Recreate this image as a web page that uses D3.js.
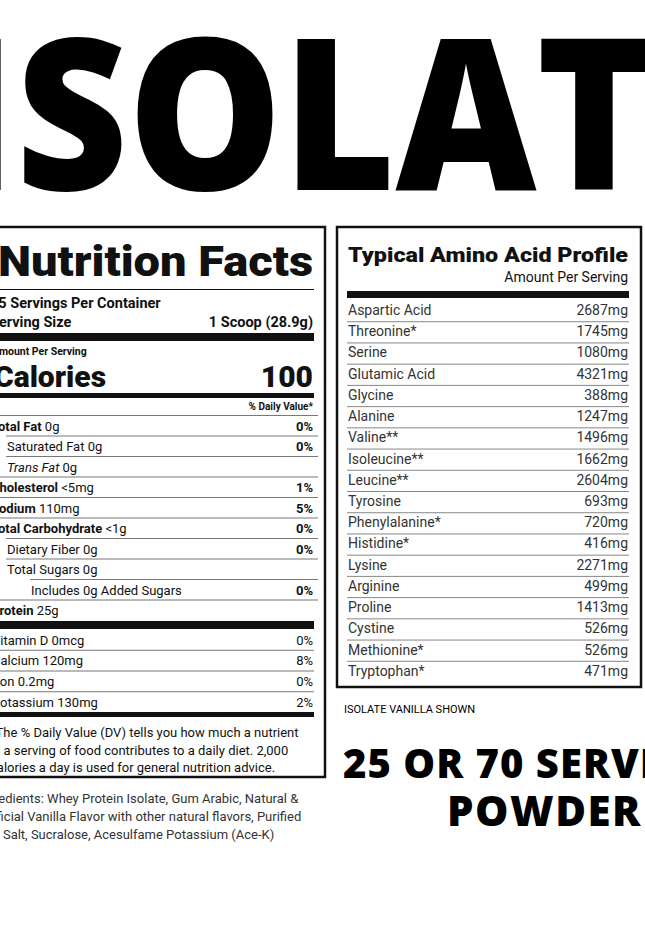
<!DOCTYPE html>
<html><head><meta charset="utf-8">
<script src="https://cdn.jsdelivr.net/npm/d3@7"></script>
<style>body{margin:0;background:#fff}svg{display:block}</style>
</head><body><div id="chart"></div>
<script>
// amino acid data
var aminoNames = ["Aspartic Acid","Threonine*","Serine","Glutamic Acid","Glycine","Alanine","Valine**","Isoleucine**","Leucine**","Tyrosine","Phenylalanine*","Histidine*","Lysine","Arginine","Proline","Cystine","Methionine*","Tryptophan*"];
var aminoMg = [2687,1745,1080,4321,388,1247,1496,1662,2604,693,720,416,2271,499,1413,526,526,471];

// nutrition facts rows
var nutrLabels = ["Total Fat","Saturated Fat","Trans Fat","Cholesterol","Sodium","Total Carbohydrate","Dietary Fiber","Total Sugars","Includes 0g Added Sugars","Protein"];
var nutrAmounts = ["0g","0g","0g","<5mg","110mg","<1g","0g","0g","",  "25g"];
var nutrDV = ["0%","0%","","1%","5%","0%","0%","","0%",""];
var nutrIndent = [0,1,1,0,0,0,1,1,2,0];
var nutrBold = [1,0,0,1,1,1,0,0,0,1];
var vitLabels = ["Vitamin D 0mcg","Calcium 120mg","Iron 0.2mg","Potassium 130mg"];
var vitDV = ["0%","8%","0%","2%"];

var w = 645, h = 936;
var svg = d3.select("#chart").append("svg").attr("width", w).attr("height", h);
var font = "Roboto, 'Liberation Sans', sans-serif";
var heavy = "'Open Sans', Lato, sans-serif";

// big heading
svg.append("text").attr("x", -52).attr("y", 190)
    .attr("textLength", 810).attr("lengthAdjust", "spacingAndGlyphs")
    .style("font-family", heavy).style("font-weight", 800)
    .style("font-size", "212px").text("ISOLATE");

// ---- Nutrition facts panel
var nf = svg.append("g").style("font-family", font).style("fill", "#111");
nf.append("rect").attr("x", -4).attr("y", 227).attr("width", 329).attr("height", 550)
    .attr("fill", "none").attr("stroke", "#111").attr("stroke-width", 2.5);
nf.append("text").attr("x", -2).attr("y", 276).attr("textLength", 315).attr("lengthAdjust", "spacingAndGlyphs")
    .style("font-size", "42px").style("font-weight", 900).text("Nutrition Facts");
function bar(g, y, t, x1, x2) {
    g.append("rect").attr("x", x1).attr("y", y).attr("width", x2 - x1).attr("height", t).attr("fill", "#111");
}
bar(nf, 289, 1, -4, 314);
nf.append("text").attr("x", -10).attr("y", 308).style("font-size", "14.5px").style("font-weight", 700).text("25 Servings Per Container");
nf.append("text").attr("x", -10).attr("y", 327).style("font-size", "14.5px").style("font-weight", 700).text("Serving Size");
nf.append("text").attr("x", 313).attr("y", 327).attr("text-anchor", "end").style("font-size", "14.5px").style("font-weight", 700).text("1 Scoop (28.9g)");
bar(nf, 333, 8, -4, 314);
nf.append("text").attr("x", -8).attr("y", 355).style("font-size", "10.5px").style("font-weight", 700).text("Amount Per Serving");
nf.append("text").attr("x", -6).attr("y", 387).style("font-size", "30px").style("font-weight", 900).text("Calories");
nf.append("text").attr("x", 313).attr("y", 387).attr("text-anchor", "end").style("font-size", "30px").style("font-weight", 900).text("100");
bar(nf, 393, 5, -4, 314);
nf.append("text").attr("x", 313).attr("y", 410).attr("text-anchor", "end").style("font-size", "10px").style("font-weight", 700).text("% Daily Value*");

var indentX = [-4, 6, 6, -4, -4, -4, 6, 6, 30, -4];
var yN = d3.scaleBand().domain(d3.range(nutrLabels.length)).range([415, 620]);
var rows = nf.selectAll("g.nrow").data(nutrLabels).join("g").attr("class", "nrow")
    .attr("transform", function (d, i) { return "translate(0," + yN(i) + ")"; });
rows.append("rect").attr("x", function (d, i) { return indentX[i]; })
    .attr("width", function (d, i) { return 318 - indentX[i]; })
    .attr("height", 1).attr("fill", "#777");
var t = rows.append("text").attr("x", function (d, i) { return [-9, 7, 31][nutrIndent[i]]; })
    .attr("y", 15.5).style("font-size", "13px");
t.append("tspan").style("font-weight", function (d, i) { return nutrBold[i] ? 700 : 400; })
    .style("font-style", function (d, i) { return i == 2 ? "italic" : "normal"; })
    .text(function (d) { return d; });
t.append("tspan").text(function (d, i) { return nutrAmounts[i] ? " " + nutrAmounts[i] : ""; });
rows.append("text").attr("x", 313).attr("y", 15.5).attr("text-anchor", "end")
    .style("font-size", "13px").style("font-weight", 700).text(function (d, i) { return nutrDV[i]; });
bar(nf, 621, 8, -4, 314);

var yV = d3.scaleBand().domain(d3.range(vitLabels.length)).range([629, 712]);
var vrows = nf.selectAll("g.vrow").data(vitLabels).join("g").attr("class", "vrow")
    .attr("transform", function (d, i) { return "translate(0," + yV(i) + ")"; });
vrows.filter(function (d, i) { return i > 0; }).append("rect").attr("x", -4).attr("width", 318).attr("height", 1).attr("fill", "#777");
vrows.append("text").attr("x", -8).attr("y", 15.5).style("font-size", "13px").text(function (d) { return d; });
vrows.append("text").attr("x", 313).attr("y", 15.5).attr("text-anchor", "end").style("font-size", "13px").text(function (d, i) { return vitDV[i]; });
bar(nf, 712, 5, -4, 314);
["*The % Daily Value (DV) tells you how much a nutrient", "in a serving of food contributes to a daily diet. 2,000", "calories a day is used for general nutrition advice."]
    .forEach(function (s, i) {
        nf.append("text").attr("x", -10).attr("y", 737 + i * 17.5).style("font-size", "13px").text(s);
    });
["Ingredients: Whey Protein Isolate, Gum Arabic, Natural &", "Artificial Vanilla Flavor with other natural flavors, Purified", "Sea Salt, Sucralose, Acesulfame Potassium (Ace-K)"]
    .forEach(function (s, i) {
        nf.append("text").attr("x", [-24, -24, -22][i]).attr("y", 803 + i * 18).style("font-size", "13px").style("fill", "#333").text(s);
    });

// ---- Amino acid panel
var am = svg.append("g").style("font-family", font).style("fill", "#111");
am.append("rect").attr("x", 337).attr("y", 227).attr("width", 304).attr("height", 460)
    .attr("fill", "none").attr("stroke", "#111").attr("stroke-width", 2.5);
am.append("text").attr("x", 348).attr("y", 262).attr("textLength", 280).attr("lengthAdjust", "spacingAndGlyphs")
    .style("font-size", "20px").style("font-weight", 900).text("Typical Amino Acid Profile");
am.append("text").attr("x", 628).attr("y", 282).attr("text-anchor", "end").style("font-size", "14px").text("Amount Per Serving");
bar(am, 291, 7, 347, 629);
var yA = d3.scaleBand().domain(aminoNames).range([300, 682]);
var arows = am.selectAll("g.arow").data(aminoNames).join("g").attr("class", "arow")
    .attr("transform", function (d) { return "translate(0," + yA(d) + ")"; });
arows.filter(function (d, i) { return i > 0; }).append("rect").attr("x", 347).attr("width", 282).attr("height", 1).attr("fill", "#888");
arows.append("text").attr("x", 348).attr("y", 15).style("font-size", "14px").style("fill", "#333").text(function (d) { return d; });
arows.append("text").attr("x", 628).attr("y", 15).attr("text-anchor", "end").style("font-size", "14px").style("fill", "#333")
    .text(function (d, i) { return aminoMg[i] + "mg"; });

// ---- bottom right captions
svg.append("text").attr("x", 344).attr("y", 713).style("font-family", font).style("font-size", "11px").text("ISOLATE VANILLA SHOWN");
svg.append("text").attr("x", 343).attr("y", 778).style("font-family", heavy).style("font-weight", 800)
    .style("font-size", "40px").style("letter-spacing", "1px").text("25 OR 70 SERVINGS");
svg.append("text").attr("x", 642).attr("y", 826).attr("text-anchor", "end").style("font-family", heavy).style("font-weight", 800)
    .style("font-size", "42px").style("letter-spacing", "1.5px").text("POWDER");
</script></body></html>
